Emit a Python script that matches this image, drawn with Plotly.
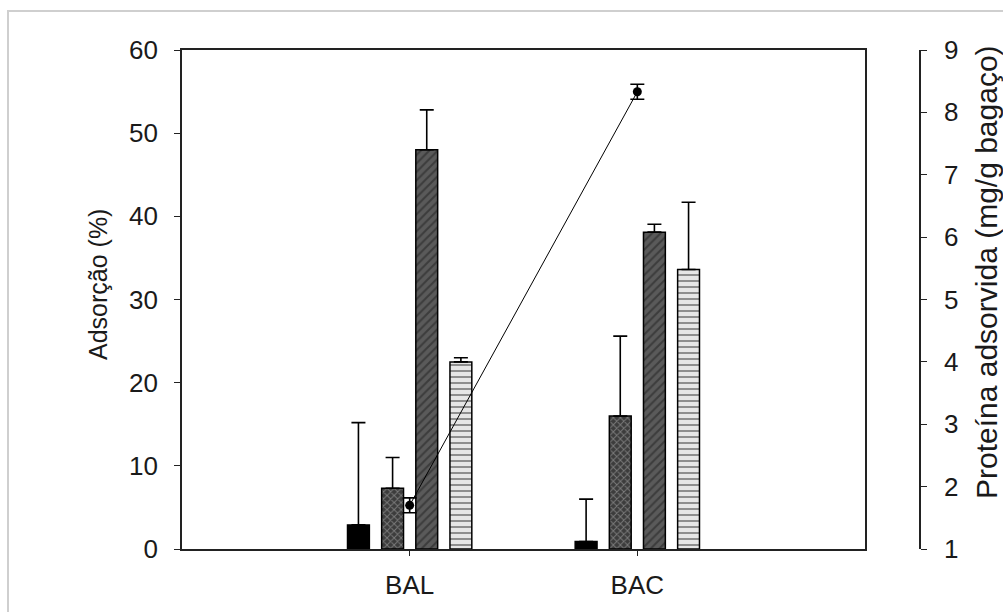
import plotly.graph_objects as go

# Materials on the category axis
categories = ["BAL", "BAC"]

# Adsorption (%) for each of the four treatments, with upward error
series_names = ["S1", "S2", "S3", "S4"]
adsorption = [
    [2.9, 0.9],
    [7.3, 16.0],
    [48.0, 38.1],
    [22.5, 33.6],
]
adsorption_err = [
    [12.3, 5.1],
    [3.7, 9.6],
    [4.8, 0.95],
    [0.5, 8.1],
]

# Adsorbed protein (mg/g bagaço) on the right axis
protein = [1.70, 8.33]
protein_err = [0.12, 0.12]

left_ticks = [0, 10, 20, 30, 40, 50, 60]
right_ticks = [1, 2, 3, 4, 5, 6, 7, 8, 9]

FONT = "Liberation Sans, Arial, sans-serif"
INK = "#1a1a1a"
TICK_SIZE = 26

bar_styles = [
    dict(color="#000000", pattern=dict(shape="")),
    dict(color="#3c3c3c", pattern=dict(shape="x", fgcolor="#b8b8b8", size=5, solidity=0.35)),
    dict(color="#5a5a5a", pattern=dict(shape="/", fgcolor="#1e1e1e", size=6, solidity=0.35)),
    dict(color="#e6e6e6", pattern=dict(shape="-", fgcolor="#222222", size=6, solidity=0.3)),
]

fig = go.Figure()

for name, vals, errs, st in zip(series_names, adsorption, adsorption_err, bar_styles):
    fig.add_trace(go.Bar(
        x=categories, y=vals, name=name,
        marker=dict(color=st["color"], pattern=st["pattern"],
                    line=dict(color="#000000", width=1.5)),
        error_y=dict(type="data", array=errs, arrayminus=[0] * len(errs),
                     symmetric=False, color="#000000", thickness=1.6, width=7),
        showlegend=False,
    ))

fig.add_trace(go.Scatter(
    x=categories, y=protein, yaxis="y2", mode="lines+markers",
    line=dict(color="#000000", width=1),
    marker=dict(color="#000000", size=9),
    error_y=dict(type="data", array=protein_err, color="#000000", thickness=1.6, width=7),
    showlegend=False,
))

L, R, T, B = 182, 83, 50, 63
W, H = 1003, 612
plot_w = W - L - R
plot_h = H - T - B
box_right = 865
dom_end = (box_right - L) / plot_w


def px_x(x):
    return (x - L) / plot_w


def px_y(y):
    return (H - B - y) / plot_h


fig.update_layout(
    width=W, height=H,
    margin=dict(l=L, r=R, t=T, b=B, pad=0),
    paper_bgcolor="white", plot_bgcolor="white",
    barmode="group", bargap=0.40, bargroupgap=0.36,
    font=dict(family=FONT, size=TICK_SIZE, color=INK),
    xaxis=dict(
        domain=[0, dom_end], type="category", range=[-1, 2],
        showline=True, linecolor="#222222", linewidth=1.6, mirror=True,
        ticks="outside", ticklen=5, tickwidth=1.4, tickcolor="#222222",
        ticklabelstandoff=7, showgrid=False, zeroline=False,
        tickfont=dict(size=TICK_SIZE, color=INK),
    ),
    yaxis=dict(
        range=[0, 60], tickvals=left_ticks,
        showline=True, linecolor="#222222", linewidth=1.6, mirror=True,
        ticks="outside", ticklen=6, tickwidth=1.4, tickcolor="#222222",
        ticklabelstandoff=11, showgrid=False, zeroline=False,
        tickfont=dict(size=TICK_SIZE, color=INK),
    ),
    yaxis2=dict(
        range=[1, 9], tickvals=right_ticks, overlaying="y", side="right",
        anchor="free", position=1.0,
        showline=True, linecolor="#222222", linewidth=1.6,
        ticks="outside", ticklen=6, tickwidth=1.4, tickcolor="#222222",
        ticklabelstandoff=12, showgrid=False, zeroline=False,
        tickfont=dict(size=TICK_SIZE, color=INK),
    ),
    annotations=[
        dict(text="Adsorção (%)", textangle=-90, xref="paper", yref="paper",
             x=px_x(98), y=px_y(285), xanchor="center", yanchor="middle",
             showarrow=False, font=dict(size=25, color=INK)),
        dict(text="Proteína adsorvida (mg/g bagaço)", textangle=-90,
             xref="paper", yref="paper",
             x=px_x(986), y=px_y(272), xanchor="center", yanchor="middle",
             showarrow=False, font=dict(size=30, color=INK)),
    ],
    shapes=[
        dict(type="rect", xref="paper", yref="paper",
             x0=px_x(8), x1=px_x(1020), y0=px_y(630), y1=px_y(11),
             line=dict(color="#cfcfcf", width=2), fillcolor="rgba(0,0,0,0)",
             layer="below"),
    ],
)

fig.write_html("out.html")
